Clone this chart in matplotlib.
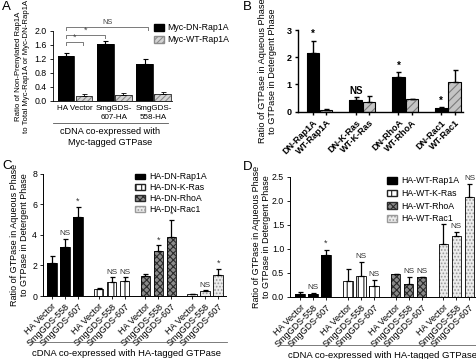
import numpy as np
import matplotlib
matplotlib.use('Agg')
import matplotlib.pyplot as plt
from matplotlib.patches import Patch

plt.rcParams['font.family'] = ['Liberation Sans', 'DejaVu Sans']
plt.rcParams['hatch.linewidth'] = 0.8

W, H = 477, 359

# ---- panel A data
a_groups = ['HA Vector', 'SmgGDS-\n607-HA', 'SmgGDS-\n558-HA']
a_dn = [1.28, 1.62, 1.07]
a_dn_err = [0.08, 0.10, 0.12]
a_wt = [0.14, 0.18, 0.20]
a_wt_err = [0.05, 0.06, 0.06]

# ---- panel B data
b_labels = ['DN-Rap1A', 'WT-Rap1A', 'DN-K-Ras', 'WT-K-Ras',
            'DN-RhoA', 'WT-RhoA', 'DN-Rac1', 'WT-Rac1']
b_dn = [2.15, 0.43, 1.28, 0.15]
b_dn_err = [0.45, 0.10, 0.17, 0.02]
b_wt = [0.06, 0.35, 0.47, 1.10]
b_wt_err = [0.04, 0.22, 0.01, 0.42]
b_marks = ['*', 'NS', '*', '*']

# ---- panels C / D
cd_ticks = ['HA Vector', 'SmgGDS-558', 'SmgGDS-607']
c_names = ['HA-DN-Rap1A', 'HA-DN-K-Ras', 'HA-DN-RhoA', 'HA-DN-Rac1']
c_vals = [[2.15, 3.2, 5.15], [0.43, 0.93, 1.0], [1.3, 2.95, 3.85], [0.12, 0.3, 1.35]]
c_errs = [[0.45, 0.55, 0.65], [0.08, 0.3, 0.25], [0.15, 0.35, 1.1], [0.02, 0.06, 0.4]]
c_marks = [['', 'NS', '*'], ['', 'NS', 'NS'], ['', '*', '*'], ['', 'NS', '*']]

d_names = ['HA-WT-Rap1A', 'HA-WT-K-Ras', 'HA-WT-RhoA', 'HA-WT-Rac1']
d_vals = [[0.05, 0.05, 0.86], [0.33, 0.43, 0.23], [0.47, 0.27, 0.42], [1.10, 1.26, 2.08]]
d_errs = [[0.04, 0.03, 0.12], [0.24, 0.30, 0.12], [0.005, 0.14, 0.0], [0.42, 0.08, 0.27]]
d_marks = [['', 'NS', '*'], ['', 'NS', 'NS'], ['', 'NS', 'NS'], ['', 'NS', 'NS']]

# fill styles for the 4 GTPases: face, hatch, hatch colour
styles = [('black', None, 'black'),
          ('white', '|||', '#222222'),
          ('#8a8a8a', 'xxxxx', '#2a2a2a'),
          ('#ececec', '.....', '#9a9a9a')]

ylab = 'Ratio of GTPase in Aqueous Phase\nto GTPase in Detergent Phase'


def rect(x0, x1, ytop, ybot):
    return [x0 / W, 1 - ybot / H, (x1 - x0) / W, (ybot - ytop) / H]


def hbar(ax, x, h, width, face, hatch, hcol, lw=0.6):
    ax.bar(x, h, width, color=face, hatch=hatch, edgecolor=hcol, linewidth=0)
    ax.bar(x, h, width, fill=False, edgecolor='black', linewidth=lw)


def errs(ax, x, h, e, lw=0.8, cap=1.8):
    x = np.atleast_1d(x)
    e = np.atleast_1d(e)
    ax.errorbar(x, h, yerr=[np.zeros_like(e), e], fmt='none', ecolor='black',
                elinewidth=lw, capsize=cap, capthick=lw)


fig = plt.figure(figsize=(W / 100, H / 100), dpi=100)

# ================= A
ax = fig.add_axes(rect(53, 172, 31, 101))
xa = np.arange(3)
hbar(ax, xa - 0.23, a_dn, 0.43, 'black', None, 'black')
hbar(ax, xa + 0.23, a_wt, 0.43, '#d4d4d4', '//////', '#8c8c8c', lw=0.5)
errs(ax, xa - 0.23, a_dn, a_dn_err)
errs(ax, xa + 0.23, a_wt, a_wt_err, lw=0.6)
ax.set_xlim(-0.56, 2.47)
ax.set_ylim(0, 2.0)
ax.set_yticks(np.arange(0, 2.01, 0.4))
ax.set_yticklabels([f'{v:.1f}' for v in np.arange(0, 2.01, 0.4)], fontsize=6.3)
ax.set_xticks(xa)
ax.set_xticklabels(a_groups, fontsize=5.8, linespacing=1.3)
ax.tick_params(axis='x', length=0, pad=3)
ax.tick_params(axis='y', length=2.5, width=0.6, pad=2)
for s in ['top', 'right']:
    ax.spines[s].set_visible(False)
ax.spines['left'].set_linewidth(0.6)
ax.spines['bottom'].set_linewidth(0.6)
ax.set_ylabel('Ratio of Non-Prenylated Rap1A\nto Total Myc-Rap1A or Myc-DN-Rap1A',
              fontsize=5.6, labelpad=3)
# brackets
for x1, x2, y, t in [(-0.23, 0.21, 1.68, '*'), (-0.23, 0.77, 1.89, '*'), (-0.23, 1.86, 2.12, 'NS')]:
    ax.plot([x1, x1, x2, x2], [y - 0.09, y, y, y - 0.09], color='#7a7a7a', lw=0.7, clip_on=False)
    ax.text((x1 + x2) / 2, y + 0.01, t, ha='center', va='bottom', fontsize=5.3 if t == 'NS' else 6.5,
            color='#444444', clip_on=False)
fig.lines.append(plt.Line2D([53 / W, 168 / W], [1 - 123 / H] * 2, color='#555555', lw=0.6,
                            transform=fig.transFigure))
fig.text(110 / W, 1 - 137 / H, 'cDNA co-expressed with\nMyc-tagged GTPase', ha='center', va='center',
         fontsize=6.6, linespacing=1.35)
fig.legend(handles=[Patch(facecolor='black', edgecolor='black', label='Myc-DN-Rap1A'),
                    Patch(facecolor='#d4d4d4', edgecolor='#8c8c8c', hatch='//////', label='Myc-WT-Rap1A')],
           loc='upper left', bbox_to_anchor=(150 / W, 1 - 19 / H), frameon=False, fontsize=6.3,
           handlelength=1.1, handleheight=0.8, handletextpad=0.4, labelspacing=0.35, borderpad=0)

# ================= B
ax = fig.add_axes(rect(298, 463, 30, 111.7))
xb = np.arange(4)
hbar(ax, xb - 0.155, b_dn, 0.29, 'black', None, 'black', lw=0.8)
hbar(ax, xb + 0.155, b_wt, 0.29, '#c4c4c4', '////', '#7a7a7a', lw=0.8)
errs(ax, xb - 0.155, b_dn, b_dn_err, lw=1.0)
errs(ax, xb + 0.155, b_wt, b_wt_err, lw=1.0)
for i in range(4):
    ax.text(xb[i] - 0.155, b_dn[i] + b_dn_err[i] + 0.06, b_marks[i], ha='center', va='bottom',
            fontsize=7, fontweight='bold')
ax.set_xlim(-0.5, 3.35)
ax.set_ylim(0, 3)
ax.set_yticks([0, 1, 2, 3])
ax.set_yticklabels(['0', '1', '2', '3'], fontsize=6.5, fontweight='bold')
pos = np.ravel(np.column_stack([xb - 0.155, xb + 0.155]))
ax.set_xticks(pos)
ax.set_xticklabels(b_labels, rotation=45, ha='right', rotation_mode='anchor', fontsize=6.5,
                   fontweight='bold')
ax.tick_params(axis='both', length=2.5, width=1.0, pad=2)
for s in ['top', 'right']:
    ax.spines[s].set_visible(False)
ax.spines['left'].set_linewidth(1.0)
ax.spines['bottom'].set_linewidth(1.0)
ax.set_ylabel(ylab, fontsize=6.6, labelpad=7)


# ================= C / D
def grouped(rect_px, vals, errs_, marks, names, ylim, yt, ytl, xlim, off, width, mark_pad, lpad):
    ax = fig.add_axes(rect(*rect_px))
    xs = []
    for g in range(4):
        face, hatch, hcol = styles[g]
        x = g + np.array([-off, 0, off])
        hbar(ax, x, vals[g], width, face, hatch, hcol, lw=0.6)
        errs(ax, x, vals[g], errs_[g], lw=0.9, cap=1.8)
        for k in range(3):
            if marks[g][k]:
                ax.text(x[k], vals[g][k] + errs_[g][k] + mark_pad, marks[g][k], ha='center',
                        va='bottom', fontsize=5.8 if marks[g][k] == 'NS' else 6.5, color='#333333')
        xs.extend(x)
    ax.set_xlim(*xlim)
    ax.set_ylim(*ylim)
    ax.set_yticks(yt)
    ax.set_yticklabels(ytl, fontsize=6.3)
    ax.set_xticks(xs)
    ax.set_xticklabels(cd_ticks * 4, rotation=45, ha='right', rotation_mode='anchor', fontsize=6.5)
    ax.tick_params(axis='both', length=2.2, width=0.6, pad=2)
    for s in ['top', 'right']:
        ax.spines[s].set_visible(False)
    ax.spines['left'].set_linewidth(0.7)
    ax.spines['bottom'].set_linewidth(0.7)
    ax.set_ylabel(ylab, fontsize=6.5, labelpad=lpad)
    return ax


grouped((43, 226, 173.5, 296), c_vals, c_errs, c_marks, c_names, (0, 8), [0, 2, 4, 6, 8],
        ['0', '2', '4', '6', '8'], (-0.46, 3.44), 0.277, 0.21, 0.08, 2)
grouped((290, 477, 176.7, 296.7), d_vals, d_errs, d_marks, d_names, (0, 2.5),
        np.arange(0, 2.51, 0.5), [f'{v:.1f}' for v in np.arange(0, 2.51, 0.5)],
        (-0.48, 3.43), 0.272, 0.20, 0.04, 0.5)

for x0, x1, yl, xt, yt, names in [(27, 227, 342, 127, 353, c_names), (280, 477, 345, 383, 355, d_names)]:
    fig.lines.append(plt.Line2D([x0 / W, x1 / W], [1 - yl / H] * 2, color='#666666', lw=0.6,
                                transform=fig.transFigure))
    fig.text(xt / W, 1 - yt / H, 'cDNA co-expressed with HA-tagged GTPase', ha='center', va='center',
             fontsize=6.8)

handles_c = [Patch(facecolor=f, edgecolor=hc, hatch=h, label=n) for (f, h, hc), n in zip(styles, c_names)]
handles_d = [Patch(facecolor=f, edgecolor=hc, hatch=h, label=n) for (f, h, hc), n in zip(styles, d_names)]
fig.legend(handles=handles_c, loc='upper left', bbox_to_anchor=(131 / W, 1 - 168 / H), frameon=False,
           fontsize=6.3, handlelength=1.1, handleheight=0.6, handletextpad=0.5, labelspacing=0.22,
           borderpad=0)
fig.legend(handles=handles_d, loc='upper left', bbox_to_anchor=(383 / W, 1 - 172 / H), frameon=False,
           fontsize=6.3, handlelength=1.1, handleheight=0.75, handletextpad=0.5, labelspacing=0.42,
           borderpad=0)

# panel letters
for t, x, y in [('A', 2, 7), ('B', 243, 7), ('C', 2, 166), ('D', 243, 167)]:
    fig.text(x / W, 1 - y / H, t, fontsize=9.5, ha='left', va='center')

fig.savefig('out.png', dpi=100)
